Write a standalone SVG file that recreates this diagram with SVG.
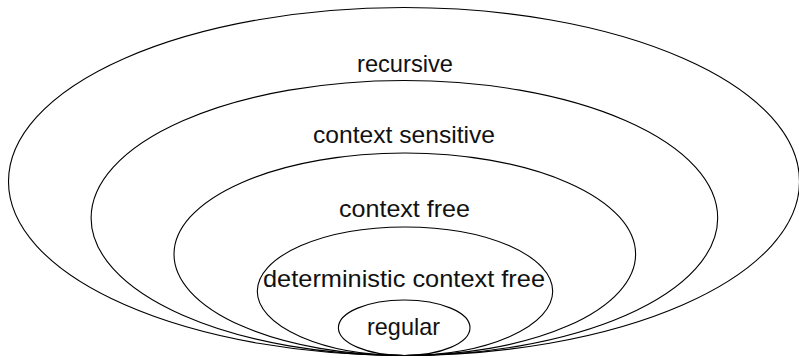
<svg xmlns="http://www.w3.org/2000/svg" width="799" height="358" viewBox="0 0 799 358">
<style>
.set{fill:none;stroke:#000;stroke-width:1.1}
.lbl{font-family:"Liberation Sans",Arial,sans-serif;font-size:24px;fill:#111;text-anchor:middle}
</style>
<rect width="799" height="358" fill="#fff"/>
<g id="recursive">
<ellipse class="set" cx="404" cy="181.5" rx="395.5" ry="174"/>
<text class="lbl" x="405" y="71.5" textLength="96" lengthAdjust="spacingAndGlyphs">recursive</text>
</g>
<g id="context-sensitive">
<ellipse class="set" cx="404.4" cy="218" rx="313.3" ry="137.5"/>
<text class="lbl" x="404" y="143" textLength="182" lengthAdjust="spacingAndGlyphs">context sensitive</text>
</g>
<g id="context-free">
<ellipse class="set" cx="404.8" cy="254.25" rx="230.8" ry="101.25"/>
<text class="lbl" x="404.5" y="216.7" textLength="131" lengthAdjust="spacingAndGlyphs">context free</text>
</g>
<g id="deterministic-context-free">
<ellipse class="set" cx="405" cy="291.25" rx="147.7" ry="64.25"/>
<text class="lbl" x="404" y="286.7" textLength="282" lengthAdjust="spacingAndGlyphs">deterministic context free</text>
</g>
<g id="regular">
<ellipse class="set" cx="404.2" cy="327.75" rx="65.8" ry="27.75"/>
<text class="lbl" x="403.5" y="335" textLength="73" lengthAdjust="spacingAndGlyphs">regular</text>
</g>
<g id="connectors"/>
</svg>
